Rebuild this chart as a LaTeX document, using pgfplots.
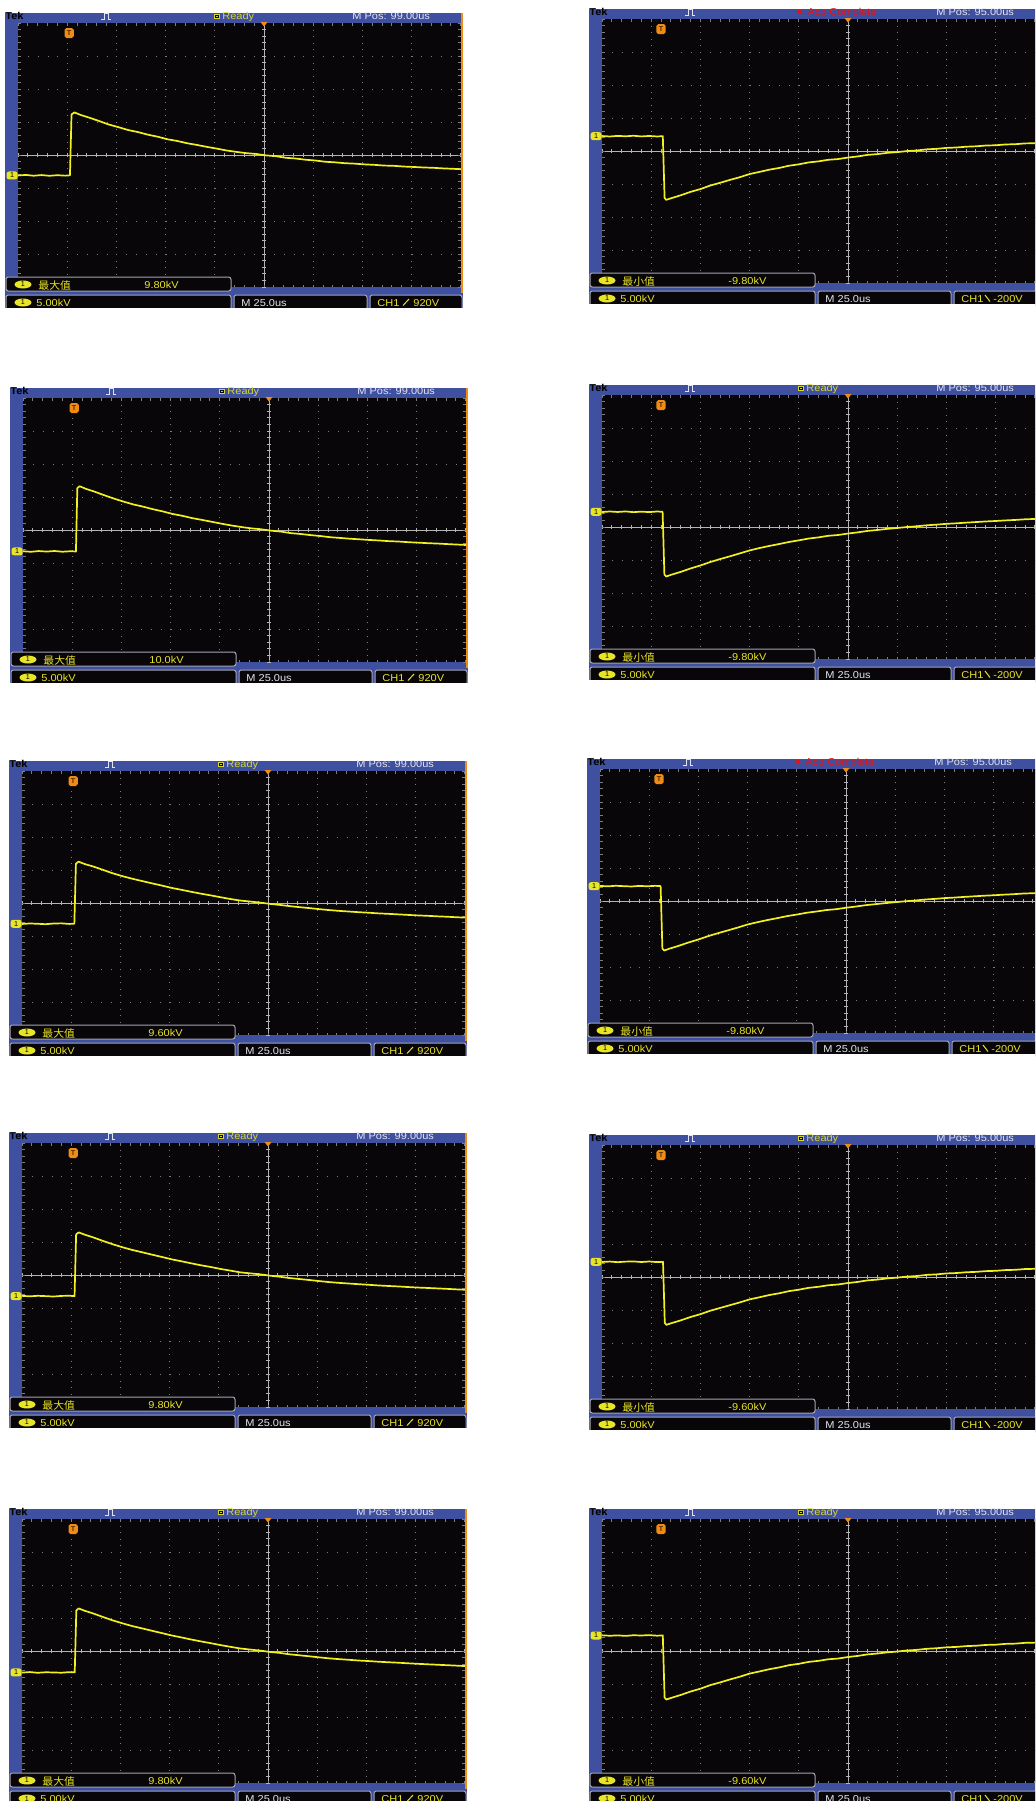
\documentclass[border=0pt]{standalone}
\usepackage{pgfplots}
\pgfplotsset{compat=1.18}
\usepackage{pgfplotstable}
\usepackage{fontspec}
\setmainfont{Liberation Sans}
\newfontfamily\cjk{Noto Sans CJK SC}
\usetikzlibrary{calc}

\definecolor{tekblue}{RGB}{64,80,160}
\definecolor{tekbg}{RGB}{8,6,8}
\definecolor{tekgrid}{RGB}{125,125,125}
\definecolor{tekaxis}{RGB}{180,180,180}
\definecolor{tektrace}{RGB}{242,240,30}
\definecolor{tekorange}{RGB}{240,140,20}
\definecolor{tekready}{RGB}{215,215,50}
\definecolor{tekred}{RGB}{225,20,25}
\definecolor{tekyellow}{RGB}{232,228,40}
\definecolor{tekwhite}{RGB}{228,228,238}
\definecolor{boxline}{RGB}{165,165,180}
\definecolor{tekbrown}{RGB}{90,40,0}

\newcommand\tekfont{\fontsize{5pt}{5.5pt}\selectfont}
\newcommand\tinyfont{\fontsize{3.6pt}{4pt}\selectfont}
\tikzset{tx/.style={inner sep=0pt, anchor=base west, font=\tekfont, xscale=1.1}}
\pgfplotsset{osc/.style={hide axis, scale only axis, height=132pt, anchor=north west}}

% time in us from the trigger, voltage in kV above ground
\pgfplotstableread{
t v
-26 0.00
-22 0.08
-18 -0.04
-14 0.06
-10 -0.05
-6 0.04
-2 -0.03
0.4 0.02
1.2 9.25
2.7 9.55
6 9.15
10 8.78
15 8.27
20 7.73
25 7.32
30 6.88
35 6.57
40 6.18
45 5.87
50 5.48
55 5.22
60 4.88
65 4.62
70 4.33
75 4.07
80 3.78
85 3.57
90 3.38
95 3.26
100 3.04
105 2.92
110 2.68
115 2.57
120 2.39
125 2.27
130 2.08
135 1.99
140 1.86
145 1.79
150 1.68
155 1.61
160 1.50
165 1.46
170 1.35
175 1.29
180 1.21
185 1.16
190 1.07
195 1.01
199 0.95
}\posA
\pgfplotstableread{
t v
-26 0.03
-22 -0.05
-18 0.06
-14 -0.02
-10 0.07
-6 -0.04
-2 0.03
0.9 0.00
1.6 9.60
2.8 9.88
6 9.48
10 9.10
15 8.55
20 8.03
25 7.56
30 7.13
35 6.79
40 6.40
45 6.07
50 5.68
55 5.40
60 5.05
65 4.78
70 4.49
75 4.20
80 3.93
85 3.70
90 3.50
95 3.36
100 3.15
105 3.01
110 2.78
115 2.65
120 2.48
125 2.34
130 2.16
135 2.05
140 1.93
145 1.84
150 1.74
155 1.66
160 1.56
165 1.50
170 1.40
175 1.33
180 1.25
185 1.19
190 1.11
195 1.04
199 0.98
}\posB
\pgfplotstableread{
t v
-26 -0.03
-22 0.05
-18 0.00
-14 -0.06
-10 0.04
-6 0.07
-2 -0.02
0.6 0.01
1.4 9.10
2.7 9.42
6 9.04
10 8.70
15 8.19
20 7.66
25 7.22
30 6.83
35 6.48
40 6.13
45 5.80
50 5.44
55 5.15
60 4.85
65 4.56
70 4.30
75 4.02
80 3.75
85 3.52
90 3.37
95 3.21
100 3.02
105 2.86
110 2.68
115 2.52
120 2.38
125 2.22
130 2.08
135 1.96
140 1.86
145 1.76
150 1.68
155 1.58
160 1.51
165 1.43
170 1.35
175 1.27
180 1.21
185 1.13
190 1.07
195 0.99
199 0.94
}\posC
\pgfplotstableread{
t v
-26 0.04
-22 -0.03
-18 0.05
-14 0.00
-10 -0.06
-6 0.03
-2 0.06
0.7 0.00
1.5 9.35
2.8 9.66
6 9.30
10 8.92
15 8.38
20 7.87
25 7.41
30 7.00
35 6.65
40 6.29
45 5.94
50 5.58
55 5.28
60 4.97
65 4.67
70 4.41
75 4.11
80 3.86
85 3.60
90 3.45
95 3.30
100 3.10
105 2.94
110 2.74
115 2.59
120 2.44
125 2.28
130 2.13
135 2.01
140 1.91
145 1.81
150 1.72
155 1.62
160 1.54
165 1.47
170 1.38
175 1.30
180 1.24
185 1.17
190 1.10
195 1.02
199 0.97
}\posD
\pgfplotstableread{
t v
-26 -0.02
-22 0.06
-18 -0.05
-14 0.03
-10 0.00
-6 -0.04
-2 0.05
0.8 0.02
1.6 9.40
2.8 9.70
6 9.33
10 8.96
15 8.42
20 7.90
25 7.45
30 7.03
35 6.68
40 6.32
45 5.97
50 5.61
55 5.31
60 4.99
65 4.70
70 4.43
75 4.14
80 3.88
85 3.63
90 3.47
95 3.31
100 3.11
105 2.96
110 2.75
115 2.60
120 2.45
125 2.29
130 2.14
135 2.02
140 1.92
145 1.81
150 1.73
155 1.63
160 1.55
165 1.48
170 1.39
175 1.31
180 1.24
185 1.17
190 1.10
195 1.03
199 0.97
}\posE
\pgfplotstableread{
t v
-30 0.02
-26 -0.05
-22 0.04
-18 -0.02
-14 0.06
-10 -0.04
-6 0.03
-2 -0.05
0.9 0.00
1.8 -9.35
2.6 -9.65
5 -9.42
10 -8.96
15 -8.44
20 -8.02
25 -7.48
30 -7.07
35 -6.63
40 -6.22
45 -5.74
50 -5.42
55 -5.08
60 -4.82
65 -4.48
70 -4.27
75 -3.98
80 -3.82
85 -3.58
90 -3.47
95 -3.24
100 -3.07
105 -2.84
110 -2.72
115 -2.53
120 -2.42
125 -2.26
130 -2.17
135 -2.00
140 -1.92
145 -1.78
150 -1.72
155 -1.60
160 -1.54
165 -1.42
170 -1.38
175 -1.26
180 -1.22
185 -1.10
190 -1.07
194 -1.02
}\negA
\pgfplotstableread{
t v
-30 -0.03
-26 0.05
-22 -0.02
-18 0.06
-14 -0.05
-10 0.03
-6 -0.04
-2 0.05
0.8 0.00
1.7 -9.50
2.6 -9.80
5 -9.55
10 -9.10
15 -8.58
20 -8.13
25 -7.61
30 -7.16
35 -6.74
40 -6.30
45 -5.85
50 -5.49
55 -5.17
60 -4.88
65 -4.57
70 -4.32
75 -4.05
80 -3.87
85 -3.63
90 -3.51
95 -3.29
100 -3.11
105 -2.89
110 -2.75
115 -2.58
120 -2.45
125 -2.30
130 -2.19
135 -2.04
140 -1.94
145 -1.82
150 -1.74
155 -1.64
160 -1.55
165 -1.46
170 -1.39
175 -1.30
180 -1.23
185 -1.13
190 -1.08
194 -1.03
}\negB
\pgfplotstableread{
t v
-30 0.04
-26 -0.03
-22 0.06
-18 0.00
-14 -0.05
-10 0.04
-6 -0.02
-2 0.05
0.8 0.01
1.7 -9.45
2.6 -9.75
5 -9.50
10 -9.04
15 -8.53
20 -8.08
25 -7.57
30 -7.12
35 -6.70
40 -6.27
45 -5.81
50 -5.46
55 -5.14
60 -4.85
65 -4.54
70 -4.30
75 -4.03
80 -3.84
85 -3.62
90 -3.49
95 -3.27
100 -3.09
105 -2.88
110 -2.73
115 -2.57
120 -2.43
125 -2.29
130 -2.18
135 -2.03
140 -1.93
145 -1.81
150 -1.73
155 -1.63
160 -1.54
165 -1.45
170 -1.38
175 -1.29
180 -1.22
185 -1.12
190 -1.07
194 -1.02
}\negC
\pgfplotstableread{
t v
-30 -0.02
-26 0.04
-22 -0.05
-18 0.03
-14 0.06
-10 -0.03
-6 0.05
-2 -0.04
1.0 0.00
1.9 -9.25
2.7 -9.55
5 -9.32
10 -8.87
15 -8.36
20 -7.93
25 -7.41
30 -6.99
35 -6.57
40 -6.15
45 -5.69
50 -5.37
55 -5.03
60 -4.77
65 -4.44
70 -4.22
75 -3.94
80 -3.78
85 -3.55
90 -3.43
95 -3.21
100 -3.04
105 -2.81
110 -2.69
115 -2.51
120 -2.39
125 -2.24
130 -2.15
135 -1.98
140 -1.90
145 -1.76
150 -1.70
155 -1.58
160 -1.52
165 -1.41
170 -1.36
175 -1.25
180 -1.21
185 -1.09
190 -1.06
194 -1.01
}\negD
\pgfplotstableread{
t v
-30 0.03
-26 -0.04
-22 0.02
-18 -0.06
-14 0.04
-10 0.00
-6 0.06
-2 -0.03
0.9 0.02
1.8 -9.40
2.7 -9.70
5 -9.47
10 -9.01
15 -8.49
20 -8.06
25 -7.52
30 -7.11
35 -6.66
40 -6.25
45 -5.77
50 -5.45
55 -5.11
60 -4.84
65 -4.50
70 -4.29
75 -4.00
80 -3.84
85 -3.60
90 -3.49
95 -3.26
100 -3.09
105 -2.86
110 -2.73
115 -2.55
120 -2.43
125 -2.27
130 -2.18
135 -2.01
140 -1.93
145 -1.79
150 -1.73
155 -1.61
160 -1.55
165 -1.43
170 -1.39
175 -1.27
180 -1.23
185 -1.11
190 -1.08
194 -1.03
}\negE

% #1 centre x, #2 centre y (px), #3 0 = left/positive, 1 = right/negative,
% #4 0 = Ready, 1 = Acq Complete, #5 measured value, #6 table, #7 ground level on screen (kV)
\newcommand\oscpanel[7]{%
  \pgfmathsetmacro\cx{#1}%
  \pgfmathsetmacro\cy{#2}%
  \ifnum#3=0
    \pgfmathsetmacro\R{#1+199}\pgfmathsetmacro\gr{#1+196.8}%
    \def\nd{3}\def\kmax{20}\def\W{221.4pt}\def\xlo{-26}\def\xhi{199}%
    \def\mpos{M Pos: 99.00us}\def\mlab{最大值}\def\lev{920V}\def\levx{149}%
  \else
    \def\R{1045}\def\gr{1045}%
    \def\nd{4}\def\kmax{25}\def\W{246pt}\def\xlo{-30}\def\xhi{220}%
    \def\mpos{M Pos: 95.00us}\def\mlab{最小值}\def\lev{-200V}\def\levx{145}%
  \fi
  \pgfmathsetmacro\ylo{-20-(#7)}\pgfmathsetmacro\yhi{20-(#7)}%
  % frame and screen
  \fill[tekblue] ({\cx-259},{\cy-142}) rectangle (\R,{\cy+153});
  \fill[tekbg] ({\cx-246},{\cy-132}) rectangle (\gr,{\cy+132});
  \coordinate (anc) at ({\cx-246},{\cy-132});
  % graticule
  \foreach \i in {-4,...,\nd}{\ifnum\i=0\else
    \draw[tekgrid, line width=0.5pt, dash pattern=on 0.5pt off 2.8pt]
      ({\cx+\i*49.2},{\cy-132}) -- ({\cx+\i*49.2},{\cy+132});\fi}
  \foreach \j in {-3,-2,-1,1,2,3}
    \draw[tekgrid, line width=0.5pt, dash pattern=on 0.5pt off 4.42pt]
      ({\cx-246},{\cy+\j*33}) -- (\gr,{\cy+\j*33});
  \draw[tekaxis, line width=0.5pt] ({\cx-246},\cy) -- (\gr,\cy)
    (\cx,{\cy-132}) -- (\cx,{\cy+132});
  \foreach \k in {-25,...,\kmax}{
    \draw[tekaxis, line width=0.5pt] ({\cx+\k*9.84},{\cy-2}) -- ++(0,4);
    \draw[tekgrid, line width=0.5pt] ({\cx+\k*9.84},{\cy-132}) -- ++(0,2.5)
      ({\cx+\k*9.84},{\cy+132}) -- ++(0,-2.5);}
  \foreach \k in {-20,...,20}{
    \draw[tekaxis, line width=0.5pt] ({\cx-2},{\cy+\k*6.6}) -- ++(4,0);
    \draw[tekgrid, line width=0.5pt] ({\cx-246},{\cy+\k*6.6}) -- ++(2.5,0)
      (\gr,{\cy+\k*6.6}) -- ++(-2.5,0);}
  % waveform
  \begin{axis}[osc, at={(anc)}, width=\W,
      xmin=\xlo, xmax=\xhi, ymin=\ylo, ymax=\yhi]
    \addplot[tektrace, line width=0.85pt, line join=round] table {#6};
    \coordinate (gnd) at (axis cs:\xlo,0);
    \coordinate (trg) at (axis cs:0,\yhi);
  \end{axis}
  \node[fill=tekyellow, rounded corners=1.2pt, minimum width=5.5pt, minimum height=4pt,
    inner sep=0pt, anchor=east, font=\tinyfont] at (gnd) {1};
  \node[fill=tekorange, rounded corners=0.9pt, minimum width=4.6pt, minimum height=5pt,
    inner sep=0pt, font=\tinyfont\bfseries, text=tekbrown] at ($(trg)+(0,10)$) {T};
  \fill[tekorange] ({\cx-3.5},{\cy-133}) -- ({\cx+3.5},{\cy-133}) -- (\cx,{\cy-128.5}) -- cycle;
  \ifnum#3=0 \fill[tekorange] ({\cx+197},{\cy-142}) rectangle ({\cx+199},{\cy+138}); \fi
  % top bar
  \node[tx, font=\tekfont\bfseries, text=black] at ({\cx-259},{\cy-135.5}) {Tek};
  \draw[tekwhite, line width=0.5pt] ({\cx-163},{\cy-135.5}) -- ++(3,0) -- ++(0,-6)
    -- ++(4,0) -- ++(0,6) -- ++(3,0);
  \ifnum#4=0
    \fill[tekready] ({\cx-50},{\cy-141.5}) rectangle ({\cx-44},{\cy-136});
    \fill[tekbg] ({\cx-49},{\cy-140.5}) rectangle ({\cx-45},{\cy-137});
    \fill[tekready] ({\cx-48},{\cy-139.5}) rectangle ({\cx-46},{\cy-138});
    \node[tx, text=tekready] at ({\cx-42},{\cy-135.5}) {Ready};
  \else
    \fill[tekred] ({\cx-48},{\cy-139}) circle (2.4);
    \node[tx, text=tekred] at ({\cx-41},{\cy-135.5}) {Acq Complete};
  \fi
  \node[tx, text=tekwhite] at ({\cx+88},{\cy-135.5}) {\mpos};
  % measurement box
  \draw[boxline, fill=tekbg, rounded corners=1.2pt, line width=0.5pt]
    ({\cx-258},{\cy+122}) rectangle ({\cx-33},{\cy+136});
  \fill[tekyellow] ({\cx-241},{\cy+129.5}) ellipse (8.5 and 4);
  \node[inner sep=0pt, font=\tinyfont] at ({\cx-241},{\cy+129.5}) {1};
  \node[tx, xscale=0.95, font={\cjk\fontsize{5.2pt}{6pt}\selectfont}, text=tekyellow]
    at ({\cx-226},{\cy+134}) {\mlab};
  \node[tx, text=tekyellow] at ({\cx-120},{\cy+133.5}) {#5};
  % status line
  \draw[boxline, fill=tekbg, rounded corners=1.2pt, line width=0.5pt]
    ({\cx-258},{\cy+140}) rectangle ({\cx-33},{\cy+155});
  \draw[boxline, fill=tekbg, rounded corners=1.2pt, line width=0.5pt]
    ({\cx-30},{\cy+140}) rectangle ({\cx+103},{\cy+155});
  \draw[boxline, fill=tekbg, rounded corners=1.2pt, line width=0.5pt]
    ({\cx+106},{\cy+140}) rectangle ({\R-1},{\cy+155});
  \fill[tekyellow] ({\cx-241},{\cy+147.5}) ellipse (8.5 and 4);
  \node[inner sep=0pt, font=\tinyfont] at ({\cx-241},{\cy+147.5}) {1};
  \node[tx, text=tekyellow] at ({\cx-228},{\cy+151.5}) {5.00kV};
  \node[tx, text=tekwhite] at ({\cx-23},{\cy+151.5}) {M 25.0us};
  \node[tx, text=tekyellow] at ({\cx+113},{\cy+151.5}) {CH1};
  \ifnum#3=0
    \draw[tekyellow, line width=0.5pt] ({\cx+139},{\cy+150.5}) -- ({\cx+145},{\cy+144});
  \else
    \draw[tekyellow, line width=0.5pt] ({\cx+137},{\cy+144}) -- ({\cx+142},{\cy+150.5});
  \fi
  \node[tx, text=tekyellow] at ({\cx+\levx},{\cy+151.5}) {\lev};
  \fill[white] ({\cx-262},{\cy+153}) rectangle ({\R+2},{\cy+162});
}

\begin{document}
\begin{tikzpicture}[x=0.5pt, y=-0.5pt]
\useasboundingbox (0,0) rectangle (1035,1801);
\fill[white] (0,0) rectangle (1035,1801);
\begin{scope}
\clip (0,0) rectangle (1035,1801);
\oscpanel{264}{155}{0}{0}{9.80kV}{\posA}{-3.1}
\oscpanel{848}{151}{1}{1}{-9.80kV}{\negA}{2.25}
\oscpanel{269}{530}{0}{0}{10.0kV}{\posB}{-3.25}
\oscpanel{848}{527}{1}{0}{-9.80kV}{\negB}{2.3}
\oscpanel{268}{903}{0}{0}{9.60kV}{\posC}{-3.15}
\oscpanel{846}{901}{1}{1}{-9.80kV}{\negC}{2.25}
\oscpanel{268}{1275}{0}{0}{9.80kV}{\posD}{-3.2}
\oscpanel{848}{1277}{1}{0}{-9.60kV}{\negD}{2.3}
\oscpanel{268}{1651}{0}{0}{9.80kV}{\posE}{-3.25}
\oscpanel{848}{1651}{1}{0}{-9.60kV}{\negE}{2.35}
\end{scope}
\end{tikzpicture}
\end{document}
